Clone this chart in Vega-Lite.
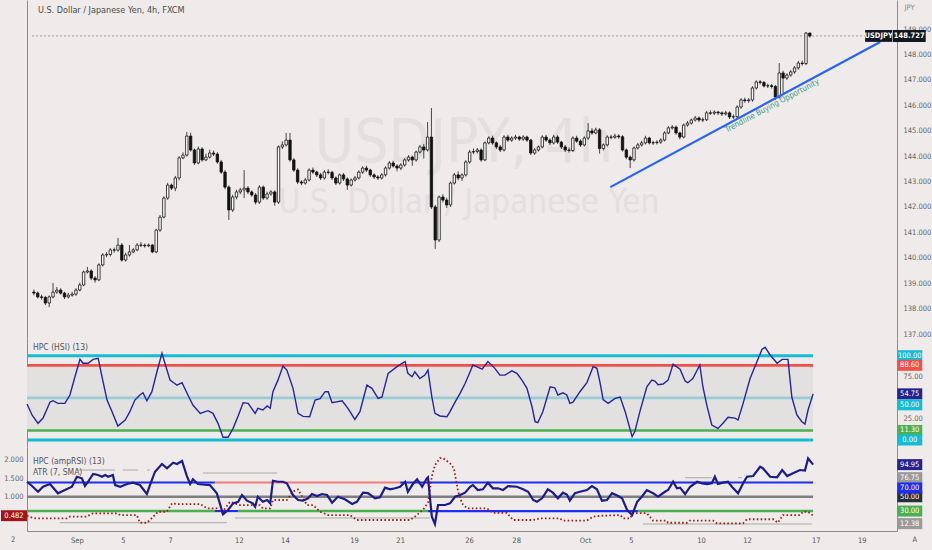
{
  "$schema": "https://vega.github.io/schema/vega-lite/v6.json",
  "background": "#eeebea",
  "padding": 0,
  "spacing": 0,
  "bounds": "flush",
  "config": {
    "view": {"stroke": null},
    "font": "Liberation Sans Narrow, DejaVu Sans Condensed, Liberation Sans",
    "text": {"font": "Liberation Sans Narrow, DejaVu Sans Condensed, Liberation Sans"},
    "axis": {
      "grid": false,
      "ticks": false,
      "domainColor": "#8c8c8c",
      "domainWidth": 1,
      "labelColor": "#666666",
      "labelFontSize": 7.5,
      "labelFont": "Liberation Sans Narrow, DejaVu Sans Condensed, Liberation Sans"
    }
  },
  "datasets": {
    "px": [
      {"i":0,"o":138.65,"h":138.75,"l":138.52,"c":138.61},
      {"i":1,"o":138.61,"h":138.68,"l":138.40,"c":138.46},
      {"i":2,"o":138.46,"h":138.55,"l":138.35,"c":138.44},
      {"i":3,"o":138.44,"h":138.50,"l":138.14,"c":138.22},
      {"i":4,"o":138.22,"h":138.52,"l":138.06,"c":138.46},
      {"i":5,"o":138.46,"h":139.01,"l":138.40,"c":138.65},
      {"i":6,"o":138.65,"h":138.85,"l":138.58,"c":138.73},
      {"i":7,"o":138.73,"h":138.80,"l":138.55,"c":138.61},
      {"i":8,"o":138.61,"h":138.66,"l":138.38,"c":138.46},
      {"i":9,"o":138.46,"h":138.62,"l":138.40,"c":138.53},
      {"i":10,"o":138.53,"h":138.66,"l":138.47,"c":138.57},
      {"i":11,"o":138.57,"h":138.80,"l":138.50,"c":138.73},
      {"i":12,"o":138.73,"h":139.02,"l":138.68,"c":138.93},
      {"i":13,"o":138.93,"h":139.50,"l":138.88,"c":139.44},
      {"i":14,"o":139.44,"h":139.64,"l":139.38,"c":139.48},
      {"i":15,"o":139.48,"h":139.55,"l":139.12,"c":139.20},
      {"i":16,"o":139.20,"h":139.28,"l":139.02,"c":139.13},
      {"i":17,"o":139.13,"h":139.78,"l":139.08,"c":139.72},
      {"i":18,"o":139.72,"h":140.18,"l":139.66,"c":140.11},
      {"i":19,"o":140.11,"h":140.23,"l":140.02,"c":140.13},
      {"i":20,"o":140.13,"h":140.38,"l":140.05,"c":140.31},
      {"i":21,"o":140.31,"h":140.40,"l":140.20,"c":140.30},
      {"i":22,"o":140.30,"h":140.78,"l":140.24,"c":140.50},
      {"i":23,"o":140.50,"h":140.58,"l":139.85,"c":139.91},
      {"i":24,"o":139.91,"h":140.20,"l":139.85,"c":140.11},
      {"i":25,"o":140.11,"h":140.50,"l":140.05,"c":140.23},
      {"i":26,"o":140.23,"h":140.38,"l":140.18,"c":140.31},
      {"i":27,"o":140.31,"h":140.58,"l":140.26,"c":140.50},
      {"i":28,"o":140.50,"h":140.62,"l":140.42,"c":140.49},
      {"i":29,"o":140.49,"h":140.56,"l":140.40,"c":140.47},
      {"i":30,"o":140.47,"h":140.56,"l":140.42,"c":140.50},
      {"i":31,"o":140.50,"h":140.54,"l":140.18,"c":140.23},
      {"i":32,"o":140.23,"h":141.14,"l":140.18,"c":141.09},
      {"i":33,"o":141.09,"h":141.68,"l":141.02,"c":141.60},
      {"i":34,"o":141.60,"h":142.42,"l":141.55,"c":142.35},
      {"i":35,"o":142.35,"h":142.95,"l":142.28,"c":142.86},
      {"i":36,"o":142.86,"h":142.92,"l":142.66,"c":142.74},
      {"i":37,"o":142.74,"h":143.22,"l":142.62,"c":143.14},
      {"i":38,"o":143.14,"h":144.00,"l":143.05,"c":143.93},
      {"i":39,"o":143.93,"h":144.15,"l":143.88,"c":144.04},
      {"i":40,"o":144.04,"h":144.95,"l":143.98,"c":144.79},
      {"i":41,"o":144.79,"h":144.92,"l":144.18,"c":144.24},
      {"i":42,"o":144.24,"h":144.30,"l":143.65,"c":143.73},
      {"i":43,"o":143.73,"h":144.38,"l":143.68,"c":144.28},
      {"i":44,"o":144.28,"h":144.35,"l":143.78,"c":143.85},
      {"i":45,"o":143.85,"h":144.10,"l":143.80,"c":143.96},
      {"i":46,"o":143.96,"h":144.25,"l":143.90,"c":144.12},
      {"i":47,"o":144.12,"h":144.22,"l":144.00,"c":144.08},
      {"i":48,"o":144.08,"h":144.15,"l":143.70,"c":143.77},
      {"i":49,"o":143.77,"h":143.85,"l":143.30,"c":143.37},
      {"i":50,"o":143.37,"h":143.45,"l":142.70,"c":142.78},
      {"i":51,"o":142.78,"h":142.85,"l":141.49,"c":141.88},
      {"i":52,"o":141.88,"h":142.48,"l":141.80,"c":142.39},
      {"i":53,"o":142.39,"h":142.68,"l":142.30,"c":142.59},
      {"i":54,"o":142.59,"h":142.75,"l":142.50,"c":142.67},
      {"i":55,"o":142.67,"h":143.45,"l":142.35,"c":142.74},
      {"i":56,"o":142.74,"h":142.82,"l":142.50,"c":142.59},
      {"i":57,"o":142.59,"h":142.65,"l":142.40,"c":142.47},
      {"i":58,"o":142.47,"h":142.55,"l":142.10,"c":142.19},
      {"i":59,"o":142.19,"h":142.85,"l":142.12,"c":142.78},
      {"i":60,"o":142.78,"h":142.84,"l":142.28,"c":142.35},
      {"i":61,"o":142.35,"h":142.60,"l":142.28,"c":142.51},
      {"i":62,"o":142.51,"h":142.66,"l":142.44,"c":142.59},
      {"i":63,"o":142.59,"h":142.65,"l":142.05,"c":142.19},
      {"i":64,"o":142.19,"h":144.42,"l":142.12,"c":144.36},
      {"i":65,"o":144.36,"h":144.58,"l":144.28,"c":144.44},
      {"i":66,"o":144.44,"h":144.91,"l":144.38,"c":144.63},
      {"i":67,"o":144.63,"h":144.91,"l":143.78,"c":143.85},
      {"i":68,"o":143.85,"h":143.92,"l":143.38,"c":143.45},
      {"i":69,"o":143.45,"h":143.52,"l":142.90,"c":142.98},
      {"i":70,"o":142.98,"h":143.05,"l":142.86,"c":142.94},
      {"i":71,"o":142.94,"h":143.14,"l":142.88,"c":143.06},
      {"i":72,"o":143.06,"h":143.52,"l":143.00,"c":143.45},
      {"i":73,"o":143.45,"h":143.55,"l":143.30,"c":143.37},
      {"i":74,"o":143.37,"h":143.42,"l":143.18,"c":143.26},
      {"i":75,"o":143.26,"h":143.34,"l":143.06,"c":143.14},
      {"i":76,"o":143.14,"h":143.45,"l":143.08,"c":143.37},
      {"i":77,"o":143.37,"h":143.48,"l":143.28,"c":143.36},
      {"i":78,"o":143.36,"h":143.42,"l":143.06,"c":143.14},
      {"i":79,"o":143.14,"h":143.20,"l":142.86,"c":142.94},
      {"i":80,"o":142.94,"h":143.32,"l":142.88,"c":143.26},
      {"i":81,"o":143.26,"h":143.33,"l":143.02,"c":143.10},
      {"i":82,"o":143.10,"h":143.16,"l":142.67,"c":142.86},
      {"i":83,"o":142.86,"h":143.12,"l":142.80,"c":143.06},
      {"i":84,"o":143.06,"h":143.22,"l":143.00,"c":143.14},
      {"i":85,"o":143.14,"h":143.44,"l":143.08,"c":143.37},
      {"i":86,"o":143.37,"h":143.60,"l":143.30,"c":143.53},
      {"i":87,"o":143.53,"h":143.62,"l":143.38,"c":143.45},
      {"i":88,"o":143.45,"h":143.50,"l":143.18,"c":143.26},
      {"i":89,"o":143.26,"h":143.32,"l":143.10,"c":143.18},
      {"i":90,"o":143.18,"h":143.25,"l":143.06,"c":143.14},
      {"i":91,"o":143.14,"h":143.33,"l":143.08,"c":143.26},
      {"i":92,"o":143.26,"h":143.60,"l":143.20,"c":143.53},
      {"i":93,"o":143.53,"h":143.80,"l":143.47,"c":143.73},
      {"i":94,"o":143.73,"h":143.82,"l":143.55,"c":143.61},
      {"i":95,"o":143.61,"h":143.68,"l":143.40,"c":143.53},
      {"i":96,"o":143.53,"h":143.72,"l":143.45,"c":143.65},
      {"i":97,"o":143.65,"h":143.92,"l":143.58,"c":143.85},
      {"i":98,"o":143.85,"h":144.04,"l":143.78,"c":143.96},
      {"i":99,"o":143.96,"h":144.02,"l":143.62,"c":143.85},
      {"i":100,"o":143.85,"h":144.22,"l":143.78,"c":144.16},
      {"i":101,"o":144.16,"h":144.44,"l":144.10,"c":144.36},
      {"i":102,"o":144.36,"h":144.48,"l":143.90,"c":144.24},
      {"i":103,"o":144.24,"h":145.34,"l":144.18,"c":144.75},
      {"i":104,"o":144.75,"h":145.89,"l":141.92,"c":142.00},
      {"i":105,"o":142.00,"h":142.08,"l":140.35,"c":140.70},
      {"i":106,"o":140.70,"h":142.45,"l":140.62,"c":142.39},
      {"i":107,"o":142.39,"h":142.50,"l":142.18,"c":142.27},
      {"i":108,"o":142.27,"h":142.36,"l":141.96,"c":142.08},
      {"i":109,"o":142.08,"h":143.00,"l":142.00,"c":142.94},
      {"i":110,"o":142.94,"h":143.34,"l":142.88,"c":143.26},
      {"i":111,"o":143.26,"h":143.40,"l":143.05,"c":143.14},
      {"i":112,"o":143.14,"h":143.32,"l":143.02,"c":143.26},
      {"i":113,"o":143.26,"h":143.84,"l":143.20,"c":143.77},
      {"i":114,"o":143.77,"h":144.24,"l":143.70,"c":144.16},
      {"i":115,"o":144.16,"h":144.30,"l":144.08,"c":144.18},
      {"i":116,"o":144.18,"h":144.32,"l":144.10,"c":144.24},
      {"i":117,"o":144.24,"h":144.30,"l":143.78,"c":143.85},
      {"i":118,"o":143.85,"h":144.58,"l":143.80,"c":144.52},
      {"i":119,"o":144.52,"h":144.78,"l":144.46,"c":144.71},
      {"i":120,"o":144.71,"h":144.80,"l":144.45,"c":144.52},
      {"i":121,"o":144.52,"h":144.58,"l":144.28,"c":144.36},
      {"i":122,"o":144.36,"h":144.44,"l":144.16,"c":144.24},
      {"i":123,"o":144.24,"h":144.82,"l":144.18,"c":144.75},
      {"i":124,"o":144.75,"h":144.84,"l":144.56,"c":144.63},
      {"i":125,"o":144.63,"h":144.78,"l":144.56,"c":144.71},
      {"i":126,"o":144.71,"h":144.84,"l":144.64,"c":144.75},
      {"i":127,"o":144.75,"h":144.80,"l":144.60,"c":144.67},
      {"i":128,"o":144.67,"h":144.82,"l":144.60,"c":144.75},
      {"i":129,"o":144.75,"h":144.80,"l":144.56,"c":144.63},
      {"i":130,"o":144.63,"h":144.68,"l":144.04,"c":144.12},
      {"i":131,"o":144.12,"h":144.32,"l":144.05,"c":144.24},
      {"i":132,"o":144.24,"h":144.42,"l":144.18,"c":144.36},
      {"i":133,"o":144.36,"h":144.82,"l":144.30,"c":144.75},
      {"i":134,"o":144.75,"h":144.84,"l":144.56,"c":144.63},
      {"i":135,"o":144.63,"h":144.70,"l":144.44,"c":144.52},
      {"i":136,"o":144.52,"h":144.84,"l":144.46,"c":144.75},
      {"i":137,"o":144.75,"h":144.82,"l":144.48,"c":144.55},
      {"i":138,"o":144.55,"h":144.60,"l":144.28,"c":144.36},
      {"i":139,"o":144.36,"h":144.44,"l":144.16,"c":144.24},
      {"i":140,"o":144.24,"h":144.34,"l":144.14,"c":144.22},
      {"i":141,"o":144.22,"h":144.78,"l":144.16,"c":144.71},
      {"i":142,"o":144.71,"h":144.80,"l":144.52,"c":144.59},
      {"i":143,"o":144.59,"h":144.66,"l":144.36,"c":144.44},
      {"i":144,"o":144.44,"h":144.78,"l":144.38,"c":144.71},
      {"i":145,"o":144.71,"h":145.30,"l":144.64,"c":144.99},
      {"i":146,"o":144.99,"h":145.10,"l":144.84,"c":144.91},
      {"i":147,"o":144.91,"h":145.12,"l":144.86,"c":145.03},
      {"i":148,"o":145.03,"h":145.10,"l":144.10,"c":144.30},
      {"i":149,"o":144.30,"h":144.50,"l":144.22,"c":144.44},
      {"i":150,"o":144.44,"h":144.82,"l":144.38,"c":144.75},
      {"i":151,"o":144.75,"h":144.84,"l":144.66,"c":144.74},
      {"i":152,"o":144.74,"h":144.88,"l":144.68,"c":144.79},
      {"i":153,"o":144.79,"h":144.86,"l":144.68,"c":144.76},
      {"i":154,"o":144.76,"h":144.82,"l":144.18,"c":144.24},
      {"i":155,"o":144.24,"h":144.30,"l":143.88,"c":143.96},
      {"i":156,"o":143.96,"h":144.02,"l":143.53,"c":143.85},
      {"i":157,"o":143.85,"h":144.38,"l":143.78,"c":144.32},
      {"i":158,"o":144.32,"h":144.52,"l":144.26,"c":144.44},
      {"i":159,"o":144.44,"h":144.60,"l":144.38,"c":144.52},
      {"i":160,"o":144.52,"h":144.80,"l":144.46,"c":144.71},
      {"i":161,"o":144.71,"h":144.76,"l":144.46,"c":144.52},
      {"i":162,"o":144.52,"h":144.60,"l":144.44,"c":144.53},
      {"i":163,"o":144.53,"h":144.62,"l":144.46,"c":144.55},
      {"i":164,"o":144.55,"h":144.70,"l":144.48,"c":144.63},
      {"i":165,"o":144.63,"h":144.98,"l":144.58,"c":144.91},
      {"i":166,"o":144.91,"h":145.18,"l":144.86,"c":145.11},
      {"i":167,"o":145.11,"h":145.22,"l":145.04,"c":145.14},
      {"i":168,"o":145.14,"h":145.20,"l":144.84,"c":144.91},
      {"i":169,"o":144.91,"h":144.96,"l":144.66,"c":144.75},
      {"i":170,"o":144.75,"h":145.28,"l":144.70,"c":145.22},
      {"i":171,"o":145.22,"h":145.38,"l":145.16,"c":145.30},
      {"i":172,"o":145.30,"h":145.48,"l":145.24,"c":145.42},
      {"i":173,"o":145.42,"h":145.58,"l":145.36,"c":145.50},
      {"i":174,"o":145.50,"h":145.56,"l":145.34,"c":145.42},
      {"i":175,"o":145.42,"h":145.52,"l":145.34,"c":145.43},
      {"i":176,"o":145.43,"h":145.78,"l":145.38,"c":145.70},
      {"i":177,"o":145.70,"h":145.80,"l":145.62,"c":145.69},
      {"i":178,"o":145.69,"h":145.80,"l":145.62,"c":145.73},
      {"i":179,"o":145.73,"h":145.78,"l":145.62,"c":145.70},
      {"i":180,"o":145.70,"h":145.76,"l":145.58,"c":145.66},
      {"i":181,"o":145.66,"h":145.78,"l":145.60,"c":145.70},
      {"i":182,"o":145.70,"h":145.76,"l":145.46,"c":145.54},
      {"i":183,"o":145.54,"h":145.64,"l":145.46,"c":145.55},
      {"i":184,"o":145.55,"h":146.00,"l":145.48,"c":145.93},
      {"i":185,"o":145.93,"h":146.28,"l":145.86,"c":146.21},
      {"i":186,"o":146.21,"h":146.30,"l":146.10,"c":146.18},
      {"i":187,"o":146.18,"h":146.28,"l":146.10,"c":146.21},
      {"i":188,"o":146.21,"h":146.75,"l":146.14,"c":146.68},
      {"i":189,"o":146.68,"h":146.98,"l":146.62,"c":146.92},
      {"i":190,"o":146.92,"h":146.99,"l":146.82,"c":146.90},
      {"i":191,"o":146.90,"h":146.95,"l":146.70,"c":146.76},
      {"i":192,"o":146.76,"h":146.85,"l":146.68,"c":146.77},
      {"i":193,"o":146.77,"h":146.84,"l":146.66,"c":146.74},
      {"i":194,"o":146.74,"h":146.80,"l":146.21,"c":146.33},
      {"i":195,"o":146.33,"h":147.66,"l":146.26,"c":147.27},
      {"i":196,"o":147.27,"h":147.36,"l":146.48,"c":147.07},
      {"i":197,"o":147.07,"h":147.26,"l":147.00,"c":147.19},
      {"i":198,"o":147.19,"h":147.38,"l":147.12,"c":147.31},
      {"i":199,"o":147.31,"h":147.54,"l":147.24,"c":147.47},
      {"i":200,"o":147.47,"h":147.74,"l":147.40,"c":147.66},
      {"i":201,"o":147.66,"h":147.76,"l":147.56,"c":147.64},
      {"i":202,"o":147.64,"h":148.88,"l":147.58,"c":148.84},
      {"i":203,"o":148.84,"h":148.86,"l":148.66,"c":148.727}
    ],
    "hsi": [
      {"i":-0.5,"v":42.7},{"i":0.8,"v":29.7},{"i":2.35,"v":19.8},{"i":3.65,"v":26},{"i":5.46,"v":45},
      {"i":6.23,"v":46.6},{"i":7.5,"v":43.5},{"i":9.3,"v":43.5},{"i":10.6,"v":53.4},{"i":11.9,"v":75},
      {"i":13.2,"v":95.7},{"i":14.0,"v":91},{"i":15.3,"v":91},{"i":16.6,"v":95.7},{"i":17.9,"v":97},
      {"i":18.9,"v":75},{"i":20.2,"v":47.4},{"i":21.5,"v":33.6},{"i":23.0,"v":16.6},{"i":24.9,"v":23.7},
      {"i":26.1,"v":33.6},{"i":27.4,"v":47.4},{"i":28.7,"v":53.4},{"i":29.5,"v":56},{"i":30.5,"v":46.6},
      {"i":31.8,"v":57.3},{"i":33.1,"v":81},{"i":34.4,"v":102.8},{"i":35.7,"v":83},{"i":36.5,"v":71},
      {"i":38.3,"v":65},{"i":39.6,"v":68},{"i":40.9,"v":55.4},{"i":42.4,"v":41.5},{"i":44.3,"v":31.6},
      {"i":46.3,"v":34.8},{"i":47.6,"v":31.6},{"i":48.9,"v":19.8},{"i":50.2,"v":3.2},{"i":51.5,"v":3.2},
      {"i":52.8,"v":13.8},{"i":54.1,"v":28.5},{"i":55.4,"v":44.3},{"i":56.7,"v":43.5},{"i":58.5,"v":31.6},
      {"i":59.2,"v":37.6},{"i":60.5,"v":35.6},{"i":61.6,"v":40.3},{"i":62.4,"v":37.6},{"i":63.1,"v":57.3},
      {"i":64.4,"v":71},{"i":65.7,"v":87.8},{"i":66.7,"v":83},{"i":68.3,"v":61.3},{"i":69.6,"v":31.6},
      {"i":70.9,"v":28},{"i":72.6,"v":27.5},{"i":74.0,"v":47.4},{"i":75.3,"v":49},{"i":76.6,"v":57.3},
      {"i":77.4,"v":57.3},{"i":78.4,"v":44.3},{"i":81.0,"v":46.6},{"i":82.5,"v":37.6},{"i":84.3,"v":24.5},
      {"i":85.6,"v":33.6},{"i":87.4,"v":65},{"i":88.7,"v":61.3},{"i":90.3,"v":49.4},{"i":91.3,"v":51},
      {"i":92.9,"v":79},{"i":95.2,"v":87},{"i":96.5,"v":91},{"i":97.3,"v":93},{"i":98.0,"v":79},
      {"i":99.1,"v":75},{"i":99.8,"v":81},{"i":101.1,"v":73},{"i":102.4,"v":77},{"i":103.2,"v":83},
      {"i":104.2,"v":51},{"i":105.0,"v":31.6},{"i":106.3,"v":28.5},{"i":108.1,"v":27.7},{"i":108.9,"v":33.6},
      {"i":110.2,"v":45},{"i":111.5,"v":55.4},{"i":112.8,"v":67},{"i":114.1,"v":81},{"i":114.8,"v":89},
      {"i":117.2,"v":84},{"i":118.7,"v":93},{"i":120.5,"v":85},{"i":121.8,"v":77},{"i":123.1,"v":77},
      {"i":124.9,"v":82},{"i":126.2,"v":79},{"i":127.5,"v":71},{"i":128.8,"v":61.3},{"i":130.1,"v":39.5},
      {"i":130.9,"v":21.7},{"i":131.6,"v":20.5},{"i":132.9,"v":33.6},{"i":134.8,"v":63.2},{"i":136.0,"v":62},
      {"i":136.8,"v":53.4},{"i":138.1,"v":56},{"i":139.1,"v":53.4},{"i":139.9,"v":43.5},{"i":140.7,"v":45},
      {"i":142.5,"v":57.3},{"i":144.3,"v":68},{"i":145.9,"v":87},{"i":146.9,"v":85},{"i":147.7,"v":68},
      {"i":148.5,"v":48},{"i":149.8,"v":43.5},{"i":151.6,"v":49.4},{"i":152.9,"v":51},{"i":154.2,"v":33.6},
      {"i":156.0,"v":4},{"i":156.7,"v":10},{"i":158.0,"v":33.6},{"i":159.8,"v":63.2},{"i":161.1,"v":71},
      {"i":161.9,"v":70},{"i":162.7,"v":65.5},{"i":164.0,"v":66.4},{"i":165.3,"v":71},{"i":166.6,"v":90},
      {"i":168.4,"v":84},{"i":169.7,"v":70},{"i":170.4,"v":68},{"i":171.7,"v":73},{"i":173.5,"v":89},
      {"i":174.3,"v":63.2},{"i":175.4,"v":39.5},{"i":176.6,"v":17.8},{"i":178.2,"v":13.8},{"i":179.5,"v":19.8},
      {"i":180.8,"v":26.9},{"i":182.6,"v":26},{"i":183.4,"v":23.7},{"i":184.7,"v":43.5},{"i":186.5,"v":73},
      {"i":188.3,"v":93},{"i":189.6,"v":107.6},{"i":190.4,"v":110},{"i":191.7,"v":100.8},{"i":193.5,"v":91},
      {"i":194.8,"v":95.7},{"i":196.3,"v":95.7},{"i":197.3,"v":51},{"i":198.6,"v":29.7},{"i":199.9,"v":21.7},
      {"i":200.7,"v":19},{"i":201.5,"v":35.6},{"i":202.8,"v":54.75}
    ],
    "amp": [
      {"i":-0.5,"v":71},{"i":0.8,"v":65},{"i":2.35,"v":57},{"i":3.65,"v":64},{"i":5.46,"v":67.8},
      {"i":7.5,"v":54.8},{"i":9.3,"v":59.4},{"i":11.1,"v":64},{"i":12.4,"v":78},{"i":13.7,"v":75.8},
      {"i":14.5,"v":65},{"i":15.3,"v":71},{"i":16.6,"v":81.8},{"i":17.9,"v":80.4},{"i":18.9,"v":78},
      {"i":19.7,"v":80.4},{"i":20.5,"v":78},{"i":21.7,"v":80.4},{"i":22.3,"v":66.4},{"i":23.6,"v":64},
      {"i":25.4,"v":67.8},{"i":26.9,"v":69.7},{"i":28.7,"v":66.4},{"i":30.5,"v":53.8},{"i":31.3,"v":66.4},
      {"i":32.6,"v":85},{"i":34.4,"v":95.8},{"i":35.7,"v":89.8},{"i":37.3,"v":97.6},{"i":38.3,"v":95.8},
      {"i":39.6,"v":100},{"i":40.9,"v":78},{"i":41.7,"v":67.8},{"i":42.4,"v":74.4},{"i":43.7,"v":67.8},
      {"i":46.8,"v":66.4},{"i":48.6,"v":54.8},{"i":50.2,"v":25.4},{"i":51.5,"v":31.5},{"i":52.8,"v":40.8},
      {"i":54.1,"v":43},{"i":55.1,"v":52.4},{"i":56.4,"v":44.5},{"i":57.9,"v":40.8},{"i":58.5,"v":36},
      {"i":59.2,"v":50},{"i":60.5,"v":43},{"i":61.6,"v":45.5},{"i":62.4,"v":40.8},{"i":63.1,"v":72.4},
      {"i":64.4,"v":71},{"i":65.7,"v":71},{"i":66.7,"v":68.8},{"i":68.3,"v":52.4},{"i":69.6,"v":45.5},
      {"i":70.9,"v":44.5},{"i":72.2,"v":47.8},{"i":73.2,"v":53.8},{"i":74.5,"v":51},{"i":75.8,"v":53.8},
      {"i":77.1,"v":52.4},{"i":78.4,"v":41.7},{"i":79.9,"v":50},{"i":81.7,"v":46.4},{"i":83.6,"v":39.9},
      {"i":84.8,"v":43},{"i":86.4,"v":55.7},{"i":87.7,"v":55},{"i":89.5,"v":47.8},{"i":90.8,"v":49.2},
      {"i":92.1,"v":62.7},{"i":93.4,"v":60.4},{"i":94.7,"v":61.9},{"i":96.0,"v":64},{"i":97.3,"v":71},
      {"i":98.0,"v":57},{"i":99.3,"v":67.8},{"i":100.4,"v":74.4},{"i":101.7,"v":64},{"i":102.9,"v":75.8},
      {"i":103.2,"v":77.3},{"i":104.2,"v":22.1},{"i":105.0,"v":11.9},{"i":105.8,"v":38.5},{"i":107.6,"v":38.5},
      {"i":108.9,"v":40.8},{"i":110.2,"v":50},{"i":111.5,"v":52.4},{"i":112.8,"v":55.7},{"i":114.1,"v":64},
      {"i":114.8,"v":66.4},{"i":116.1,"v":59.4},{"i":117.4,"v":60.4},{"i":118.7,"v":69.7},{"i":120.0,"v":61.8},
      {"i":121.3,"v":61.8},{"i":122.6,"v":59.4},{"i":123.9,"v":65},{"i":126.2,"v":64},{"i":127.8,"v":60.4},
      {"i":129.1,"v":57},{"i":130.4,"v":45.5},{"i":131.4,"v":43},{"i":132.7,"v":47.8},{"i":134.2,"v":60.4},
      {"i":135.5,"v":55.7},{"i":136.8,"v":47.8},{"i":138.1,"v":55.7},{"i":139.1,"v":53.1},{"i":139.9,"v":44.5},
      {"i":141.2,"v":55},{"i":142.5,"v":57},{"i":144.3,"v":59.4},{"i":145.6,"v":65},{"i":146.9,"v":60.4},
      {"i":148.2,"v":44.5},{"i":149.5,"v":45.5},{"i":150.8,"v":55},{"i":152.4,"v":51},{"i":153.4,"v":47.8},
      {"i":154.7,"v":31.5},{"i":156.0,"v":24.5},{"i":157.3,"v":43},{"i":158.5,"v":50},{"i":159.8,"v":59.4},
      {"i":161.4,"v":55},{"i":162.7,"v":50},{"i":164.5,"v":57},{"i":165.3,"v":59.4},{"i":166.6,"v":71},
      {"i":167.6,"v":61.8},{"i":168.4,"v":62.7},{"i":169.7,"v":53.8},{"i":171.0,"v":64},{"i":172.8,"v":71},
      {"i":174.1,"v":68.8},{"i":175.4,"v":67.8},{"i":176.6,"v":68.8},{"i":177.4,"v":78},{"i":178.2,"v":67.8},
      {"i":179.5,"v":69.7},{"i":180.8,"v":71},{"i":181.8,"v":64},{"i":183.4,"v":54.8},{"i":184.7,"v":68.8},
      {"i":185.7,"v":78},{"i":187.3,"v":79},{"i":189.1,"v":92},{"i":189.8,"v":90},{"i":191.7,"v":78},
      {"i":193.5,"v":77.3},{"i":194.8,"v":87.4},{"i":196.1,"v":79},{"i":197.6,"v":82.8},{"i":199.4,"v":87.4},
      {"i":200.7,"v":86.6},{"i":201.5,"v":103.7},{"i":202.8,"v":94.95}
    ],
    "atr": [
      {"i":-0.5,"v":0.48},{"i":1.0,"v":0.42},{"i":2.0,"v":0.41},{"i":9.8,"v":0.41},{"i":10.5,"v":0.455},
      {"i":14.8,"v":0.455},{"i":16.6,"v":0.548},{"i":22.8,"v":0.548},{"i":23.6,"v":0.5},{"i":27.9,"v":0.5},
      {"i":28.7,"v":0.29},{"i":30.5,"v":0.29},{"i":31.3,"v":0.365},{"i":33.4,"v":0.59},{"i":35.7,"v":0.59},
      {"i":37.0,"v":0.82},{"i":38.3,"v":0.8},{"i":44.3,"v":0.8},{"i":46.1,"v":0.68},{"i":48.6,"v":0.68},
      {"i":49.9,"v":0.56},{"i":52.0,"v":0.86},{"i":54.6,"v":0.77},{"i":59.7,"v":0.77},{"i":60.5,"v":0.68},
      {"i":62.4,"v":0.68},{"i":63.1,"v":0.91},{"i":66.7,"v":0.91},{"i":68.3,"v":1.14},{"i":69.6,"v":1.2},
      {"i":71.9,"v":0.77},{"i":73.5,"v":0.77},{"i":75.3,"v":0.59},{"i":77.4,"v":0.5},{"i":83.0,"v":0.5},
      {"i":84.8,"v":0.365},{"i":98.6,"v":0.365},{"i":99.8,"v":0.455},{"i":101.9,"v":0.64},{"i":103.2,"v":0.84},
      {"i":104.2,"v":1.55},{"i":105.0,"v":1.86},{"i":106.3,"v":2.05},{"i":107.1,"v":2.05},{"i":108.9,"v":1.91},
      {"i":109.9,"v":1.77},{"i":111.0,"v":1.14},{"i":112.0,"v":0.82},{"i":113.3,"v":0.68},{"i":118.5,"v":0.68},
      {"i":120.0,"v":0.56},{"i":123.6,"v":0.56},{"i":125.2,"v":0.365},{"i":130.4,"v":0.365},{"i":132.2,"v":0.41},
      {"i":137.3,"v":0.41},{"i":138.1,"v":0.35},{"i":144.3,"v":0.35},{"i":145.9,"v":0.455},{"i":148.0,"v":0.48},
      {"i":152.9,"v":0.5},{"i":153.7,"v":0.41},{"i":155.5,"v":0.41},{"i":156.2,"v":0.55},{"i":159.8,"v":0.55},
      {"i":161.4,"v":0.35},{"i":164.9,"v":0.35},{"i":165.3,"v":0.29},{"i":170.2,"v":0.29},{"i":170.9,"v":0.35},
      {"i":176.9,"v":0.35},{"i":177.9,"v":0.275},{"i":184.7,"v":0.275},{"i":185.7,"v":0.385},{"i":192.5,"v":0.385},
      {"i":193.7,"v":0.29},{"i":195.0,"v":0.5},{"i":199.4,"v":0.5},{"i":200.2,"v":0.59},{"i":201.5,"v":0.59},
      {"i":202.8,"v":0.482}
    ],
    "trend": [{"i":150.8,"p":142.78},{"i":221.4,"p":148.49}],
    "hsiLev": [
      {"v":100,"k":"cyan"},{"v":88.6,"k":"red"},{"v":50,"k":"light"},{"v":11.3,"k":"green"},{"v":0,"k":"cyan"}
    ],
    "hsiTag": [
      {"v":100,"t":"100.00","k":"cyan"},{"v":88.6,"t":"88.60","k":"red"},{"v":54.75,"t":"54.75","k":"navy"},
      {"v":50,"t":"50.00","k":"cyan"},{"v":11.3,"t":"11.30","k":"green"},{"v":0,"t":"0.00","k":"cyan"}
    ],
    "ampLev": [
      {"a":-0.5,"b":202.8,"v":50,"k":"mid"},
      {"a":-0.5,"b":48.1,"v":70,"k":"blue"},
      {"a":48.1,"b":96.0,"v":70,"k":"salmon"},
      {"a":96.0,"b":202.8,"v":70,"k":"blue"},
      {"a":-0.5,"b":48.1,"v":30,"k":"green"},
      {"a":48.1,"b":54.1,"v":30,"k":"blue"},
      {"a":54.1,"b":103.2,"v":30,"k":"green"},
      {"a":103.2,"b":157.5,"v":30,"k":"blue"},
      {"a":157.5,"b":202.8,"v":30,"k":"green"}
    ],
    "ampGray": [
      {"a":12.4,"b":22.3,"v":87.4},{"a":24.3,"b":28.2,"v":87.4},{"a":30.5,"b":31.3,"v":87.4},
      {"a":45.0,"b":64.2,"v":83.2},{"a":8.0,"b":51.2,"v":13.7},{"a":53.3,"b":103.7,"v":20.3},
      {"a":169.7,"b":176.6,"v":76.6},{"a":183.4,"b":184.4,"v":76.6},{"a":158.8,"b":202.5,"v":11.9}
    ],
    "ampTag": [
      {"v":94.95,"t":"94.95","k":"navy"},{"v":76.75,"t":"76.75","k":"gray"},{"v":70,"t":"70.00","k":"blue"},
      {"v":50,"t":"50.00","k":"dark"},{"v":30,"t":"30.00","k":"green"},{"v":12.38,"t":"12.38","k":"gray"}
    ]
  },
  "vconcat": [
    {
      "width": 870,
      "height": 338,
      "layer": [
        {
          "data": {"values": [{"t": "USDJPY, 4h"}]},
          "mark": {"type": "text", "fontSize": 60, "color": "#e3e0df", "align": "center", "baseline": "alphabetic"},
          "encoding": {
            "x": {"datum": 112.5, "scale": {"domain": [-0.5, 224.5], "nice": false, "zero": false}, "axis": null},
            "y": {"datum": 143.77, "scale": {"domain": [136.844, 150.141], "nice": false, "zero": false}, "axis": null},
            "text": {"field": "t"}
          }
        },
        {
          "data": {"values": [{"t": "U.S. Dollar / Japanese Yen"}]},
          "mark": {"type": "text", "fontSize": 33, "color": "#e3e0df", "align": "center", "baseline": "alphabetic"},
          "encoding": {
            "x": {"datum": 113.8, "scale": {"domain": [-0.5, 224.5], "nice": false, "zero": false}, "axis": null},
            "y": {"datum": 141.76, "scale": {"domain": [136.844, 150.141], "nice": false, "zero": false}, "axis": null},
            "text": {"field": "t"}
          }
        },
        {
          "data": {"values": [{}]},
          "mark": {"type": "rule", "strokeDash": [2, 2], "color": "#8a8a8a", "strokeWidth": 0.8},
          "encoding": {
            "x": {"datum": -0.5, "scale": {"domain": [-0.5, 224.5], "nice": false, "zero": false}, "axis": null},
            "x2": {"datum": 224.5},
            "y": {"datum": 148.727, "scale": {"domain": [136.844, 150.141], "nice": false, "zero": false}, "axis": null}
          }
        },
        {
          "data": {"name": "px"},
          "mark": {"type": "rule", "color": "#1c1c1c", "strokeWidth": 0.8},
          "encoding": {
            "x": {"field": "i", "type": "quantitative", "scale": {"domain": [-0.5, 224.5], "nice": false, "zero": false}, "axis": null},
            "y": {
              "field": "l", "type": "quantitative",
              "scale": {"domain": [136.844, 150.141], "nice": false, "zero": false},
              "axis": {"orient": "left", "labels": false, "domain": true, "minExtent": 27, "maxExtent": 27, "title": null}
            },
            "y2": {"field": "h"}
          }
        },
        {
          "data": {"name": "px"},
          "mark": {"type": "bar", "size": 2.4, "stroke": "#111111", "strokeWidth": 0.8},
          "encoding": {
            "x": {"field": "i", "type": "quantitative", "scale": {"domain": [-0.5, 224.5], "nice": false, "zero": false}, "axis": null},
            "y": {
              "field": "o", "type": "quantitative",
              "scale": {"domain": [136.844, 150.141], "nice": false, "zero": false},
              "axis": {
                "orient": "right", "values": [137, 138, 139, 140, 141, 142, 143, 144, 145, 146, 147, 148, 149],
                "format": ".3f", "labelPadding": 6, "minExtent": 35, "maxExtent": 35,
                "title": "JPY", "titleAngle": 0, "titleX": 7, "titleY": 3, "titleAlign": "left", "titleBaseline": "top",
                "titleFontSize": 7.5, "titleFontWeight": "normal", "titleColor": "#8a8a8a",
                "titleFont": "Liberation Sans Narrow, DejaVu Sans Condensed, Liberation Sans"
              }
            },
            "y2": {"field": "c"},
            "fill": {"condition": {"test": "datum.c >= datum.o", "value": "#ffffff"}, "value": "#111111"}
          }
        },
        {
          "data": {"name": "trend"},
          "mark": {"type": "line", "color": "#2962ff", "strokeWidth": 2.2},
          "encoding": {
            "x": {"field": "i", "type": "quantitative", "scale": {"domain": [-0.5, 224.5], "nice": false, "zero": false}, "axis": null},
            "y": {"field": "p", "type": "quantitative", "scale": {"domain": [136.844, 150.141], "nice": false, "zero": false}, "axis": null}
          }
        },
        {
          "data": {"values": [{"t": "Trendline Buying Opportunity"}]},
          "mark": {"type": "text", "fontSize": 8, "color": "#3f9a86", "angle": 332, "align": "center", "baseline": "middle"},
          "encoding": {
            "x": {"datum": 193.2, "scale": {"domain": [-0.5, 224.5], "nice": false, "zero": false}, "axis": null},
            "y": {"datum": 145.97, "scale": {"domain": [136.844, 150.141], "nice": false, "zero": false}, "axis": null},
            "text": {"field": "t"}
          }
        },
        {
          "data": {"values": [{"t": "U.S. Dollar / Japanese Yen, 4h, FXCM"}]},
          "mark": {"type": "text", "fontSize": 9, "color": "#4a4a4a", "align": "left", "baseline": "alphabetic"},
          "encoding": {
            "x": {"datum": 1.05, "scale": {"domain": [-0.5, 224.5], "nice": false, "zero": false}, "axis": null},
            "y": {"datum": 149.61, "scale": {"domain": [136.844, 150.141], "nice": false, "zero": false}, "axis": null},
            "text": {"field": "t"}
          }
        },
        {
          "data": {"values": [{"t": "USDJPY"}]},
          "layer": [
            {"mark": {"type": "point", "shape": "M-1,-0.44H1V0.44H-1Z", "size": 729, "filled": true, "opacity": 1, "color": "#131722", "strokeWidth": 0}},
            {"mark": {"type": "text", "fontSize": 7.5, "color": "#ffffff", "align": "center", "baseline": "middle", "fontWeight": "bold"}, "encoding": {"text": {"field": "t"}}}
          ],
          "encoding": {
            "x": {"datum": 221.0, "scale": {"domain": [-0.5, 224.5], "nice": false, "zero": false}, "axis": null},
            "y": {"datum": 148.727, "scale": {"domain": [136.844, 150.141], "nice": false, "zero": false}, "axis": null}
          }
        },
        {
          "data": {"values": [{"t": "148.727"}]},
          "layer": [
            {"mark": {"type": "point", "shape": "M-1,-0.364H1V0.364H-1Z", "size": 1089, "filled": true, "opacity": 1, "color": "#131722", "strokeWidth": 0}},
            {"mark": {"type": "text", "fontSize": 7.5, "color": "#ffffff", "align": "center", "baseline": "middle", "fontWeight": "bold"}, "encoding": {"text": {"field": "t"}}}
          ],
          "encoding": {
            "x": {"datum": 229.0, "scale": {"domain": [-0.5, 224.5], "nice": false, "zero": false}, "axis": null},
            "y": {"datum": 148.727, "scale": {"domain": [136.844, 150.141], "nice": false, "zero": false}, "axis": null}
          }
        }
      ],
      "resolve": {"scale": {"y": "shared"}, "axis": {"y": "independent"}}
    },
    {
      "width": 870,
      "height": 109,
      "layer": [
        {
          "data": {"values": [{}]},
          "mark": {"type": "rect", "color": "#e3e1e0"},
          "encoding": {
            "x": {"datum": -0.5, "scale": {"domain": [-0.5, 224.5], "nice": false, "zero": false}, "axis": null},
            "x2": {"datum": 202.8},
            "y": {
              "datum": 11.3, "scale": {"domain": [-8.3, 121.0], "nice": false, "zero": false},
              "axis": {"orient": "left", "labels": false, "domain": true, "minExtent": 27, "maxExtent": 27, "title": null}
            },
            "y2": {"datum": 88.6}
          }
        },
        {
          "data": {"name": "hsiLev"},
          "mark": {"type": "rule"},
          "encoding": {
            "x": {"datum": -0.5, "scale": {"domain": [-0.5, 224.5], "nice": false, "zero": false}, "axis": null},
            "x2": {"datum": 202.8},
            "y": {
              "field": "v", "type": "quantitative", "scale": {"domain": [-8.3, 121.0], "nice": false, "zero": false},
              "axis": {"orient": "right", "values": [25, 75], "format": ".2f", "labelPadding": 6, "minExtent": 35, "maxExtent": 35, "title": null}
            },
            "color": {
              "field": "k", "type": "nominal", "legend": null,
              "scale": {
                "domain": ["cyan", "red", "light", "green", "navy", "gray", "blue", "dark", "salmon", "mid"],
                "range": ["#14bcd6", "#f0504a", "#9ccbd6", "#4caf50", "#25228c", "#9a9a9a", "#1e2df2", "#2a2e39", "#f27c76", "#7e7e7e"]
              }
            },
            "strokeWidth": {
              "field": "k", "type": "nominal", "legend": null,
              "scale": {"domain": ["cyan", "red", "light", "green"], "range": [3, 2, 1.2, 2]}
            }
          }
        },
        {
          "data": {"name": "hsi"},
          "mark": {"type": "line", "color": "#26249a", "strokeWidth": 1.4},
          "encoding": {
            "x": {"field": "i", "type": "quantitative", "scale": {"domain": [-0.5, 224.5], "nice": false, "zero": false}, "axis": null},
            "y": {"field": "v", "type": "quantitative", "scale": {"domain": [-8.3, 121.0], "nice": false, "zero": false}, "axis": null}
          }
        },
        {
          "data": {"values": [{"t": "HPC (HSI) (13)"}]},
          "mark": {"type": "text", "fontSize": 8.5, "color": "#555555", "align": "left", "baseline": "alphabetic"},
          "encoding": {
            "x": {"datum": 1.05, "scale": {"domain": [-0.5, 224.5], "nice": false, "zero": false}, "axis": null},
            "y": {"datum": 106.8, "scale": {"domain": [-8.3, 121.0], "nice": false, "zero": false}, "axis": null},
            "text": {"field": "t"}
          }
        },
        {
          "data": {"name": "hsiTag"},
          "transform": [{"filter": "datum.t !== '50.00'"}],
          "layer": [
            {"mark": {"type": "point", "shape": "M-1,-0.44H1V0.44H-1Z", "size": 625, "filled": true, "opacity": 1, "strokeWidth": 0}},
            {"mark": {"type": "text", "fontSize": 7.5, "align": "center", "baseline": "middle"}, "encoding": {"text": {"field": "t"}, "color": {"value": "#ffffff"}}}
          ],
          "encoding": {
            "x": {"datum": 227.8, "scale": {"domain": [-0.5, 224.5], "nice": false, "zero": false}, "axis": null},
            "y": {"field": "v", "type": "quantitative", "scale": {"domain": [-8.3, 121.0], "nice": false, "zero": false}, "axis": null},
            "color": {
              "field": "k", "type": "nominal", "legend": null,
              "scale": {
                "domain": ["cyan", "red", "light", "green", "navy", "gray", "blue", "dark", "salmon", "mid"],
                "range": ["#14bcd6", "#f0504a", "#9ccbd6", "#4caf50", "#25228c", "#9a9a9a", "#1e2df2", "#2a2e39", "#f27c76", "#7e7e7e"]
              }
            }
          }
        },
        {
          "data": {"name": "hsiTag"},
          "transform": [{"filter": "datum.t === '50.00'"}],
          "layer": [
            {"mark": {"type": "point", "shape": "M-1,-0.44H1V0.44H-1Z", "size": 625, "filled": true, "opacity": 1, "strokeWidth": 0, "yOffset": 7}},
            {"mark": {"type": "text", "fontSize": 7.5, "align": "center", "baseline": "middle", "yOffset": 7}, "encoding": {"text": {"field": "t"}, "color": {"value": "#ffffff"}}}
          ],
          "encoding": {
            "x": {"datum": 227.8, "scale": {"domain": [-0.5, 224.5], "nice": false, "zero": false}, "axis": null},
            "y": {"field": "v", "type": "quantitative", "scale": {"domain": [-8.3, 121.0], "nice": false, "zero": false}, "axis": null},
            "color": {
              "field": "k", "type": "nominal", "legend": null,
              "scale": {
                "domain": ["cyan", "red", "light", "green", "navy", "gray", "blue", "dark", "salmon", "mid"],
                "range": ["#14bcd6", "#f0504a", "#9ccbd6", "#4caf50", "#25228c", "#9a9a9a", "#1e2df2", "#2a2e39", "#f27c76", "#7e7e7e"]
              }
            }
          }
        }
      ],
      "resolve": {"scale": {"y": "shared"}, "axis": {"y": "independent"}}
    },
    {
      "width": 870,
      "height": 84,
      "layer": [
        {
          "data": {"name": "ampLev"},
          "mark": {"type": "rule"},
          "encoding": {
            "x": {
              "field": "a", "type": "quantitative", "scale": {"domain": [-0.5, 224.5], "nice": false, "zero": false},
              "axis": {
                "values": [12.4, 24.3, 36.5, 54.3, 66.2, 84.1, 96, 113.8, 126, 143.8, 155.7, 173.8, 185.7, 203.5, 215.4],
                "labelExpr": "['Sep','5','7','12','14','19','21','26','28','Oct','5','10','12','17','19'][indexof([12.4,24.3,36.5,54.3,66.2,84.1,96,113.8,126,143.8,155.7,173.8,185.7,203.5,215.4], datum.value)]",
                "labelPadding": 5, "labelFontSize": 7.5, "labelColor": "#555555", "labelOverlap": false, "labelFlush": false,
                "domain": true, "minExtent": 19, "maxExtent": 19, "title": null
              }
            },
            "x2": {"field": "b"},
            "y": {
              "field": "v", "type": "quantitative", "scale": {"domain": [2.1, 119.6], "nice": false, "zero": false},
              "axis": {"orient": "right", "labels": false, "domain": true, "minExtent": 35, "maxExtent": 35, "title": null}
            },
            "color": {
              "field": "k", "type": "nominal", "legend": null,
              "scale": {
                "domain": ["cyan", "red", "light", "green", "navy", "gray", "blue", "dark", "salmon", "mid"],
                "range": ["#14bcd6", "#f0504a", "#9ccbd6", "#4caf50", "#25228c", "#9a9a9a", "#1e2df2", "#2a2e39", "#f27c76", "#7e7e7e"]
              }
            },
            "strokeWidth": {
              "field": "k", "type": "nominal", "legend": null,
              "scale": {"domain": ["mid", "blue", "salmon", "green"], "range": [1.4, 2, 2, 1.6]}
            }
          }
        },
        {
          "data": {"name": "ampGray"},
          "mark": {"type": "rule", "color": "#a9a9a9", "strokeWidth": 1},
          "encoding": {
            "x": {"field": "a", "type": "quantitative", "scale": {"domain": [-0.5, 224.5], "nice": false, "zero": false}},
            "x2": {"field": "b"},
            "y": {"field": "v", "type": "quantitative", "scale": {"domain": [2.1, 119.6], "nice": false, "zero": false}, "axis": null}
          }
        },
        {
          "data": {"name": "atr"},
          "mark": {"type": "line", "color": "#a01c1c", "strokeWidth": 1.8, "strokeDash": [1.6, 2.3]},
          "encoding": {
            "x": {"field": "i", "type": "quantitative", "scale": {"domain": [-0.5, 224.5], "nice": false, "zero": false}},
            "y": {
              "field": "v", "type": "quantitative", "scale": {"domain": [0.065, 2.354], "nice": false, "zero": false},
              "axis": {"orient": "left", "values": [1, 1.5, 2], "format": ".3f", "labelPadding": 4, "domain": true, "minExtent": 27, "maxExtent": 27, "title": null}
            }
          }
        },
        {
          "data": {"name": "amp"},
          "mark": {"type": "line", "color": "#1e1c8c", "strokeWidth": 2.2},
          "encoding": {
            "x": {"field": "i", "type": "quantitative", "scale": {"domain": [-0.5, 224.5], "nice": false, "zero": false}},
            "y": {"field": "v", "type": "quantitative", "scale": {"domain": [2.1, 119.6], "nice": false, "zero": false}, "axis": null}
          }
        },
        {
          "data": {"values": [{"t": "HPC (ampRSI) (13)", "r": 96.5}, {"t": "ATR (7, SMA)", "r": 80.4}]},
          "mark": {"type": "text", "fontSize": 8.5, "color": "#555555", "align": "left", "baseline": "alphabetic"},
          "encoding": {
            "x": {"datum": 1.05, "scale": {"domain": [-0.5, 224.5], "nice": false, "zero": false}},
            "y": {"field": "r", "type": "quantitative", "scale": {"domain": [2.1, 119.6], "nice": false, "zero": false}, "axis": null},
            "text": {"field": "t"}
          }
        },
        {
          "data": {"name": "ampTag"},
          "transform": [{"filter": "datum.t !== '70.00'"}],
          "layer": [
            {"mark": {"type": "point", "shape": "M-1,-0.44H1V0.44H-1Z", "size": 625, "filled": true, "opacity": 1, "strokeWidth": 0}},
            {"mark": {"type": "text", "fontSize": 7.5, "align": "center", "baseline": "middle"}, "encoding": {"text": {"field": "t"}, "color": {"value": "#ffffff"}}}
          ],
          "encoding": {
            "x": {"datum": 227.8, "scale": {"domain": [-0.5, 224.5], "nice": false, "zero": false}},
            "y": {"field": "v", "type": "quantitative", "scale": {"domain": [2.1, 119.6], "nice": false, "zero": false}, "axis": null},
            "color": {
              "field": "k", "type": "nominal", "legend": null,
              "scale": {
                "domain": ["cyan", "red", "light", "green", "navy", "gray", "blue", "dark", "salmon", "mid"],
                "range": ["#14bcd6", "#f0504a", "#9ccbd6", "#4caf50", "#25228c", "#9a9a9a", "#1e2df2", "#2a2e39", "#f27c76", "#7e7e7e"]
              }
            }
          }
        },
        {
          "data": {"name": "ampTag"},
          "transform": [{"filter": "datum.t === '70.00'"}],
          "layer": [
            {"mark": {"type": "point", "shape": "M-1,-0.44H1V0.44H-1Z", "size": 625, "filled": true, "opacity": 1, "strokeWidth": 0, "yOffset": 5.5}},
            {"mark": {"type": "text", "fontSize": 7.5, "align": "center", "baseline": "middle", "yOffset": 5.5}, "encoding": {"text": {"field": "t"}, "color": {"value": "#ffffff"}}}
          ],
          "encoding": {
            "x": {"datum": 227.8, "scale": {"domain": [-0.5, 224.5], "nice": false, "zero": false}},
            "y": {"field": "v", "type": "quantitative", "scale": {"domain": [2.1, 119.6], "nice": false, "zero": false}, "axis": null},
            "color": {
              "field": "k", "type": "nominal", "legend": null,
              "scale": {
                "domain": ["cyan", "red", "light", "green", "navy", "gray", "blue", "dark", "salmon", "mid"],
                "range": ["#14bcd6", "#f0504a", "#9ccbd6", "#4caf50", "#25228c", "#9a9a9a", "#1e2df2", "#2a2e39", "#f27c76", "#7e7e7e"]
              }
            }
          }
        },
        {
          "data": {"values": [{"t": "0.482", "v": 0.482}]},
          "layer": [
            {"mark": {"type": "point", "shape": "M-1,-0.42H1V0.42H-1Z", "size": 676, "filled": true, "opacity": 1, "color": "#a31515", "strokeWidth": 0}},
            {"mark": {"type": "text", "fontSize": 7.5, "color": "#ffffff", "align": "center", "baseline": "middle"}, "encoding": {"text": {"field": "t"}}}
          ],
          "encoding": {
            "x": {"datum": -3.86, "scale": {"domain": [-0.5, 224.5], "nice": false, "zero": false}},
            "y": {"field": "v", "type": "quantitative", "scale": {"domain": [0.065, 2.354], "nice": false, "zero": false}, "axis": null}
          }
        },
        {
          "data": {"values": [{"t": "2"}]},
          "mark": {"type": "text", "fontSize": 7.5, "color": "#555555", "align": "center", "baseline": "middle"},
          "encoding": {
            "x": {"datum": -4.1, "scale": {"domain": [-0.5, 224.5], "nice": false, "zero": false}},
            "y": {"datum": -0.18, "scale": {"domain": [0.065, 2.354], "nice": false, "zero": false}, "axis": null},
            "text": {"field": "t"}
          }
        },
        {
          "data": {"values": [{"t": "A"}]},
          "mark": {"type": "text", "fontSize": 7.5, "color": "#555555", "align": "center", "baseline": "middle"},
          "encoding": {
            "x": {"datum": 229.1, "scale": {"domain": [-0.5, 224.5], "nice": false, "zero": false}},
            "y": {"datum": -0.18, "scale": {"domain": [0.065, 2.354], "nice": false, "zero": false}, "axis": null},
            "text": {"field": "t"}
          }
        }
      ],
      "resolve": {"scale": {"y": "independent"}, "axis": {"y": "independent"}}
    }
  ]
}
